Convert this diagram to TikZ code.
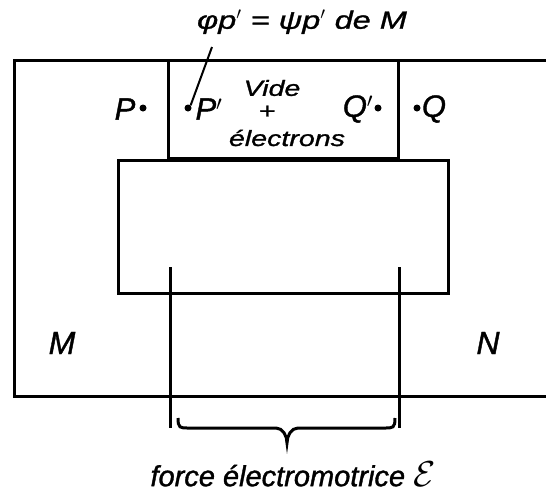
\documentclass[tikz,border=0pt]{standalone}
\usepackage{fontspec}
\setmainfont{Liberation Sans}[ItalicFeatures={FakeBold=1.2}]
\newfontfamily\widefont[FakeStretch=1.3,ItalicFeatures={FakeBold=1.2}]{Liberation Sans}
\begin{document}
\begin{tikzpicture}[x=1pt,y=-1pt,
  line/.style={line width=3pt},
  lbl/.style={font=\fontsize{31}{34}\selectfont\itshape, inner sep=0pt},
  small/.style={font=\widefont\fontsize{22}{24}\selectfont\itshape, inner sep=0pt},
  formula/.style={font=\widefont\fontsize{25}{27}\selectfont\itshape, inner sep=0pt},
  big/.style={font=\fontsize{32}{34}\selectfont\itshape, inner sep=0pt},
  femst/.style={font=\fontsize{29}{32}\selectfont\itshape, inner sep=0pt},
  pdot/.style={circle, fill=black, inner sep=0pt, minimum size=7pt}]
\useasboundingbox (0,0) rectangle (546,493);
% frames
\coordinate (tr) at (546,60);
\coordinate (tl) at (14,60);
\coordinate (bl) at (14,396);
\coordinate (br) at (546,396);
\draw[line] (tr) -- (tl) -- (bl) -- (br);
\draw[line] (168,60) rectangle (398,158);
\draw[line] (118,160) rectangle (448,293);
\coordinate (l1) at (170,267); \coordinate (l2) at (170,428);
\coordinate (r1) at (399,267); \coordinate (r2) at (399,428);
\draw[line] (l1) -- (l2);
\draw[line] (r1) -- (r2);
% brace
\draw[line] (178,418) .. controls (178,428) and (180,428) .. (188,428) -- (276,428)
  .. controls (283,428) and (287,436) .. (287,443)
  .. controls (287,436) and (291,428) .. (298,428) -- (385,428)
  .. controls (393,428) and (395,428) .. (395,418);
% labels
\node[formula] (form) at (302,22) {φp\('\) = ψp\('\) de M};
\node[lbl] (P) at (125,109) {P};
\node[pdot] (Pd) at (143,108) {};
\node[pdot] (Ppd) at (188,108) {};
\node[lbl] (Pp) at (209,109) {P\('\)};
\node[small] (vide) at (272,88) {Vide};
\node[small] (plus) at (267,112) {+};
\node[small] (elec) at (287,138) {électrons};
\node[lbl] (Qp) at (358,109) {Q\('\)};
\node[pdot] (Qpd) at (378,108) {};
\node[pdot] (Qd) at (417,108) {};
\node[lbl] (Q) at (434,109) {Q};
\node[big] (M) at (62,343) {M};
\node[big] (N) at (488,343) {N};
\node[femst] (fem) at (293,474) {force électromotrice \scalebox{1.45}{\(\mathcal{E}\)}};
\coordinate (ptop) at (212,47);
\draw[line width=2pt] (ptop) -- (Ppd.north east);
\end{tikzpicture}
\end{document}
